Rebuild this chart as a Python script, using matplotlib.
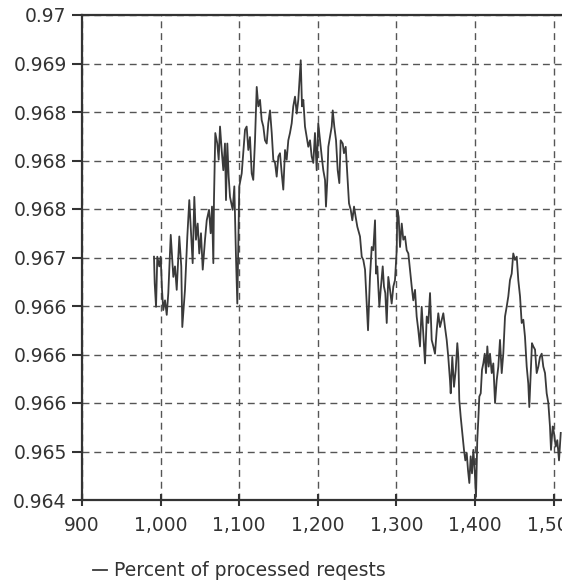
import matplotlib.pyplot as plt
from matplotlib.ticker import FixedLocator, FixedFormatter, FuncFormatter

# data (x = request count, y = share processed)
requests = [
    991.6, 992.5, 994.2, 995.8, 998.3, 1000.1, 1001.8, 1003.4, 1005.6, 1007.8,
    1009.8, 1012.9, 1016.2, 1018.3, 1020.5, 1023.8, 1026.3, 1027.6, 1031.0, 1034.0,
    1036.5, 1038.3, 1040.8, 1042.9, 1045.0, 1047.2, 1049.2, 1051.4, 1053.6, 1056.5,
    1058.7, 1061.6, 1063.7, 1065.4, 1067.1, 1067.9, 1069.6, 1072.1, 1073.9, 1075.6,
    1077.7, 1079.8, 1081.9, 1083.2, 1084.9, 1086.6, 1088.3, 1091.7, 1093.8, 1095.9,
    1097.6, 1100.1, 1103.2, 1107.4, 1109.5, 1111.6, 1113.7, 1115.9, 1117.9, 1120.1,
    1122.3, 1124.3, 1126.5, 1128.6, 1130.7, 1132.8, 1135.0, 1137.0, 1139.2, 1141.4,
    1143.4, 1145.6, 1147.7, 1149.8, 1151.9, 1154.1, 1156.1, 1158.3, 1160.4, 1162.5,
    1164.6, 1166.8, 1168.8, 1171.0, 1173.2, 1175.2, 1176.5, 1178.3, 1179.9, 1181.6,
    1183.7, 1185.9, 1187.9, 1190.1, 1192.2, 1194.3, 1196.4, 1198.6, 1200.6, 1202.8,
    1205.0, 1207.0, 1209.2, 1210.4, 1212.1, 1213.4, 1215.5, 1217.7, 1219.0, 1221.0,
    1223.2, 1225.3, 1227.4, 1229.1, 1231.7, 1233.3, 1235.5, 1237.5, 1239.7, 1241.9,
    1243.9, 1246.1, 1248.2, 1250.3, 1253.7, 1255.9, 1257.9, 1260.1, 1262.2, 1263.9,
    1266.4, 1268.6, 1270.6, 1272.8, 1274.1, 1275.7, 1278.3, 1280.0, 1282.6, 1284.2,
    1285.9, 1287.7, 1289.7, 1291.9, 1294.0, 1296.1, 1298.2, 1300.4, 1301.2, 1302.9,
    1304.6, 1306.8, 1308.8, 1311.0, 1313.1, 1315.2, 1317.3, 1319.5, 1321.5, 1323.7,
    1325.8, 1327.9, 1330.0, 1332.2, 1334.2, 1336.4, 1338.6, 1340.6, 1342.8, 1344.9,
    1347.0, 1349.1, 1351.3, 1353.3, 1355.5, 1359.7, 1361.8, 1364.0, 1366.0, 1368.2,
    1369.1, 1371.1, 1373.3, 1375.5, 1377.5, 1378.8, 1380.0, 1381.8, 1383.9, 1386.0,
    1387.7, 1389.5, 1391.1, 1392.8, 1394.5, 1396.2, 1397.9, 1399.6, 1401.3, 1402.9,
    1404.2, 1405.5, 1407.3, 1408.9, 1410.6, 1412.4, 1414.0, 1415.7, 1417.4, 1419.1,
    1421.3, 1423.3, 1425.5, 1427.6, 1429.7, 1431.8, 1434.0, 1436.0, 1438.2, 1440.3,
    1442.4, 1444.5, 1446.7, 1448.7, 1450.9, 1453.1, 1455.1, 1457.3, 1459.4, 1461.5,
    1463.6, 1465.8, 1467.8, 1469.1, 1470.9, 1472.5, 1474.2, 1476.4, 1478.5, 1480.6,
    1482.7, 1484.9, 1486.9, 1489.1, 1491.2, 1493.3, 1495.4, 1496.7, 1498.9, 1500.5,
    1502.7, 1504.7, 1506.9, 1509.1,
]
processed = [
    0.96701, 0.96668, 0.96639, 0.96701, 0.96689, 0.96701, 0.96660, 0.96635, 0.96647, 0.96629,
    0.96656, 0.96728, 0.96676, 0.96689, 0.96660, 0.96726, 0.96689, 0.96614, 0.96660, 0.96726,
    0.96771, 0.96738, 0.96693, 0.96775, 0.96722, 0.96742, 0.96705, 0.96730, 0.96685, 0.96722,
    0.96746, 0.96759, 0.96730, 0.96763, 0.96693, 0.96771, 0.96854, 0.96841, 0.96821, 0.96862,
    0.96833, 0.96808, 0.96841, 0.96771, 0.96841, 0.96800, 0.96775, 0.96759, 0.96788, 0.96701,
    0.96643, 0.96788, 0.96804, 0.96858, 0.96862, 0.96833, 0.96849, 0.96804, 0.96796, 0.96845,
    0.96911, 0.96887, 0.96895, 0.96870, 0.96862, 0.96845, 0.96841, 0.96866, 0.96882, 0.96854,
    0.96821, 0.96817, 0.96800, 0.96825, 0.96829, 0.96804, 0.96784, 0.96833, 0.96821, 0.96845,
    0.96854, 0.96866, 0.96887, 0.96899, 0.96878, 0.96895, 0.96916, 0.96944, 0.96887, 0.96895,
    0.96862, 0.96849, 0.96837, 0.96845, 0.96825, 0.96817, 0.96854, 0.96808, 0.96866, 0.96845,
    0.96825, 0.96808, 0.96796, 0.96763, 0.96796, 0.96837, 0.96849, 0.96862, 0.96882, 0.96862,
    0.96845, 0.96808, 0.96792, 0.96845, 0.96841, 0.96829, 0.96837, 0.96804, 0.96767, 0.96759,
    0.96746, 0.96763, 0.96750, 0.96738, 0.96726, 0.96701, 0.96697, 0.96685, 0.96643, 0.96610,
    0.96676, 0.96713, 0.96709, 0.96746, 0.96680, 0.96689, 0.96639, 0.96660, 0.96689, 0.96664,
    0.96656, 0.96619, 0.96676, 0.96660, 0.96643, 0.96664, 0.96672, 0.96709, 0.96759, 0.96750,
    0.96713, 0.96742, 0.96722, 0.96726, 0.96709, 0.96705, 0.96685, 0.96664, 0.96647, 0.96660,
    0.96627, 0.96610, 0.96590, 0.96639, 0.96606, 0.96569, 0.96627, 0.96619, 0.96656, 0.96598,
    0.96590, 0.96581, 0.96610, 0.96631, 0.96614, 0.96631, 0.96614, 0.96598, 0.96577, 0.96548,
    0.96532, 0.96577, 0.96540, 0.96561, 0.96594, 0.96577, 0.96524, 0.96503, 0.96483, 0.96462,
    0.96449, 0.96458, 0.96437, 0.96421, 0.96454, 0.96433, 0.96462, 0.96437, 0.96404, 0.96474,
    0.96499, 0.96528, 0.96532, 0.96561, 0.96569, 0.96581, 0.96557, 0.96590, 0.96565, 0.96581,
    0.96557, 0.96569, 0.96520, 0.96548, 0.96565, 0.96598, 0.96557, 0.96581, 0.96627, 0.96639,
    0.96652, 0.96672, 0.96680, 0.96705, 0.96697, 0.96701, 0.96672, 0.96652, 0.96619, 0.96623,
    0.96602, 0.96565, 0.96544, 0.96515, 0.96557, 0.96594, 0.96590, 0.96586, 0.96557, 0.96565,
    0.96577, 0.96581, 0.96565, 0.96557, 0.96532, 0.96520, 0.96491, 0.96462, 0.96491, 0.96483,
    0.96466, 0.96474, 0.96449, 0.96483,
]

x_ticks = [900, 1000, 1100, 1200, 1300, 1400, 1500]
y_ticks = [0.964, 0.9646, 0.9652, 0.9658, 0.9664, 0.967, 0.9676, 0.9682, 0.9688, 0.9694, 0.970]
y_tick_labels = ['0.964', '0.965', '0.966', '0.966', '0.966', '0.967',
                 '0.968', '0.968', '0.968', '0.969', '0.97']
series_name = 'Percent of processed reqests'

fig = plt.figure(figsize=(5.62, 5.80), dpi=100)
ax = fig.add_axes([82 / 562, 1 - 500 / 580, 1 - 82 / 562, 485 / 580])

ax.plot(requests, processed, color='#3a3a3a', linewidth=1.3, label=series_name)

ax.set_xlim(900, 1510.7)
ax.set_ylim(0.964, 0.970)

ax.xaxis.set_major_locator(FixedLocator(x_ticks))
ax.xaxis.set_major_formatter(FuncFormatter(lambda v, p: f'{v:,.0f}'))
ax.yaxis.set_major_locator(FixedLocator(y_ticks))
ax.yaxis.set_major_formatter(FixedFormatter(y_tick_labels))

ax.grid(True, color='#555555', linestyle=(0, (5, 3.5)), linewidth=1.0)
ax.set_axisbelow(True)

for side in ['left', 'bottom', 'top']:
    ax.spines[side].set_color('#333333')
    ax.spines[side].set_linewidth(1.6)
ax.spines['right'].set_visible(False)

ax.tick_params(axis='y', direction='out', length=7, width=1.5, color='#333333',
               labelsize=13.5, labelcolor='#333333', pad=4)
ax.tick_params(axis='x', direction='inout', length=9, width=1.5, color='#333333',
               labelsize=13.5, labelcolor='#333333', pad=7)

# legend sits under the x axis, no frame
leg = ax.legend(loc='upper left', bbox_to_anchor=(84 / 562, 1 - 552 / 580),
                bbox_transform=fig.transFigure, frameon=False,
                handlelength=0.75, handletextpad=0.35, borderpad=0,
                prop={'size': 13.5})
for t in leg.get_texts():
    t.set_color('#333333')

plt.savefig('out.png', dpi=100)
